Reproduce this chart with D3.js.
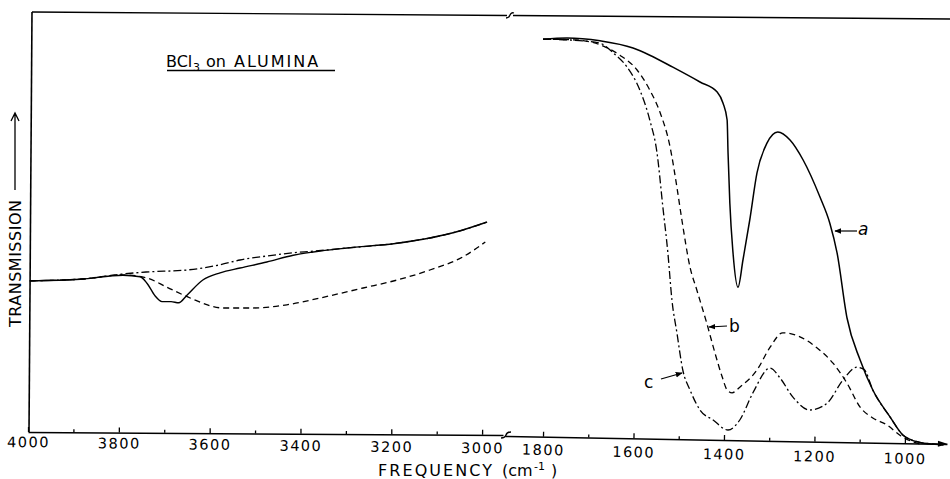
<!DOCTYPE html>
<html><head><meta charset="utf-8">
<script src="https://cdn.jsdelivr.net/npm/d3@7"></script>
<style>body{margin:0;background:#fff}svg{display:block}</style>
</head><body>
<svg id="chart" width="950" height="479"></svg>
<script>
// ---------- DATA ----------
// Left panel (OH stretching region), [frequency cm-1, transmission (arb.)]
const leftSolid = [[3996,39.8],[3885,40.2],[3791,41.2],[3753,40.8],[3738,39.2],[3720,36],[3705,34.6],[3685,34.6],[3668,34.3],[3650,36.2],[3615,40],[3577,41.8],[3533,43],[3474,44.5],[3416,46.2],[3372,47],[3297,48],[3187,49.2],[3115,50.5],[3064,51.8],[2989,54.5]];
const leftDashed = [[3996,39.8],[3885,40.2],[3791,41.3],[3738,40.5],[3694,38.2],[3643,35.5],[3570,33],[3504,33],[3430,33.8],[3357,35.5],[3262,38],[3187,40],[3115,42.5],[3042,45.8],[2993,49.5]];
const leftDashDot = [[3996,39.8],[3885,40.2],[3791,41.5],[3740,42],[3650,42.5],[3577,43.8],[3533,45],[3474,46],[3416,46.8],[3372,47.2],[3297,48],[3187,49.2],[3115,50.5],[3064,51.8],[2989,54.5]];
// Right panel, curves a (solid), b (dashed), c (dash-dot)
const curveA = [[1800,100.2],[1747,100.5],[1674,99.8],[1601,98],[1564,96.2],[1513,93.2],[1453,89.5],[1415,87],[1402,84.2],[1393,80],[1391,71.8],[1387,59.2],[1380,46.8],[1369,38.2],[1358,45],[1343,55],[1327,66.8],[1305,74.2],[1281,77],[1254,75],[1225,70],[1188,60.8],[1166,54.2],[1150,46.8],[1128,30.5],[1099,20],[1071,12.5],[1033,5.8],[1004,1.2],[967,-0.6],[938,-1],[915,-1.2]];
const curveB = [[1800,100.2],[1725,100],[1674,98.8],[1630,96.2],[1592,92.5],[1564,87.5],[1541,81.8],[1519,73.2],[1504,63.2],[1493,55],[1475,43.2],[1460,37.5],[1438,29.2],[1420,21.8],[1404,15.8],[1393,12.5],[1382,11.8],[1365,13.2],[1327,17.5],[1298,23.2],[1270,26.8],[1232,25.8],[1194,23],[1159,19.2],[1128,14.2],[1099,8.2],[1071,5.5],[1040,3.8],[1011,1.2],[982,-0.5],[967,-1]];
const curveC = [[1800,100.2],[1740,100],[1674,99.2],[1645,96.8],[1614,93.2],[1586,87.5],[1564,80],[1548,71.8],[1535,58.2],[1524,46.8],[1515,35],[1504,26.8],[1491,17.5],[1475,12.5],[1453,7.5],[1424,5],[1391,2.5],[1365,5],[1336,11.8],[1298,18],[1276,15.5],[1248,10.8],[1210,7.5],[1172,9.2],[1137,15],[1106,18.2],[1090,17.6],[1071,12.5],[1033,5.8],[1004,1.2],[967,-0.6],[938,-1],[915,-1.2]];
// Axis ticks and labels
const leftTicks = [4000,3900,3800,3700,3600,3500,3400,3300,3200,3100,3000];
const leftLabels = [4000,3800,3600,3400,3200,3000];
const rightTicks = [1800,1700,1600,1500,1400,1300,1200,1100,1000];
const rightLabels = [1800,1600,1400,1200,1000];
const titleParts = ["BCl", "3", "on", "ALUMINA"];
const yTitle = "TRANSMISSION";
const xTitle = ["FREQUENCY", "(cm", "-1", ")"];
const curveNames = ["a", "b", "c"];

// ---------- DRAWING ----------
const svg = d3.select("#chart");
const FONT = "DejaVu Sans, Liberation Sans, sans-serif";

const xL = d3.scaleLinear().domain([4000, 2954]).range([28, 503]);
const xR = d3.scaleLinear().domain([1884, 907]).range([505, 947]);
const y = d3.scaleLinear().domain([0, 100]).range([440, 40]);

// frame
svg.append("path").attr("d", "M32,12 L29,432").attr("stroke", "#000").attr("stroke-width", 1.6).attr("fill", "none");
svg.append("path").attr("d", "M32,12 L507,15.5 M513,15.5 L950,19").attr("stroke", "#000").attr("stroke-width", 1.4).attr("fill", "none");
svg.append("path").attr("d", "M506,18 Q509,18 510,15 T514,13").attr("stroke", "#000").attr("stroke-width", 1.3).attr("fill", "none");

function drawAxis(scale, ticks, labels, tx, ty, ang, pivot, padFn) {
  const g = svg.append("g").attr("transform", `translate(${tx},${ty}) rotate(${ang},${pivot},0)`);
  const ax = d3.axisBottom(scale).tickValues(ticks).tickSizeInner(-5).tickSizeOuter(0).tickPadding(5)
    .tickFormat(d => labels.includes(d) ? d : "");
  g.call(ax);
  g.select(".domain").attr("stroke", "#000").attr("stroke-width", 1.5);
  g.selectAll(".tick line").attr("stroke", "#000").attr("stroke-width", 1.3)
    .attr("y2", d => labels.includes(d) ? -5 : -3);
  g.selectAll(".tick text").attr("font-family", FONT).attr("font-size", 14.5)
    .attr("letter-spacing", "1.5px").attr("fill", "#000")
    .attr("y", d => padFn(d));
  return g;
}
drawAxis(xL, leftTicks, leftLabels, 0, 432, 0.36, 28, d => 5 + 3 * (4000 - d) / 1000);
const gR = drawAxis(xR, rightTicks, rightLabels, 0, 436, 1.04, 505, d => 8 + 2.2 * (1800 - d) / 800);
gR.append("path").attr("d", "M938,-3 L948,0 L938,3 Z").attr("fill", "#000");
// break mark on axis
svg.append("path").attr("d", "M501,438 Q505,438 506,435 T511,432").attr("stroke", "#000").attr("stroke-width", 1.4).attr("fill", "none");

// curves
const lineL = d3.line().x(d => xL(d[0])).y(d => y(d[1])).curve(d3.curveMonotoneX);
const lineR = d3.line().x(d => xR(d[0])).y(d => y(d[1])).curve(d3.curveMonotoneX);
const styles = {solid: null, dashed: "6,4", dashdot: "8,3,2,3"};
function addLine(gen, data, dash, w) {
  svg.append("path").datum(data).attr("d", gen).attr("fill", "none").attr("stroke", "#000")
    .attr("stroke-width", w).attr("stroke-dasharray", dash).attr("stroke-linejoin", "round");
}
addLine(lineL, leftDashDot, styles.dashdot, 1.3);
addLine(lineL, leftDashed, styles.dashed, 1.3);
addLine(lineL, leftSolid, styles.solid, 1.4);
addLine(lineR, curveC, styles.dashdot, 1.3);
addLine(lineR, curveB, styles.dashed, 1.3);
addLine(lineR, curveA, styles.solid, 1.5);

// title
const tg = svg.append("g").attr("font-family", FONT).attr("fill", "#000");
tg.append("text").attr("x", 166).attr("y", 67).attr("font-size", 16).text(titleParts[0]);
tg.append("text").attr("x", 193).attr("y", 71).attr("font-size", 11).text(titleParts[1]);
tg.append("text").attr("x", 206).attr("y", 67).attr("font-size", 16).text(titleParts[2]);
tg.append("text").attr("x", 234).attr("y", 67).attr("font-size", 16).attr("letter-spacing", "2px").text(titleParts[3]);
svg.append("line").attr("x1", 167).attr("x2", 335).attr("y1", 70.5).attr("y2", 70.5).attr("stroke", "#000").attr("stroke-width", 1.5);

// y title
svg.append("text").attr("transform", "translate(21,327) rotate(-90)").attr("font-family", FONT)
  .attr("font-size", 16).attr("textLength", 127).attr("lengthAdjust", "spacing").attr("fill", "#000").text(yTitle);
svg.append("path").attr("d", "M15,190 V114 M11,121 L15,113 L19,121").attr("stroke", "#000").attr("stroke-width", 1.3).attr("fill", "none");

// x title
const xg = svg.append("g").attr("font-family", FONT).attr("fill", "#000");
xg.append("text").attr("x", 378).attr("y", 476).attr("font-size", 16).attr("textLength", 114).attr("lengthAdjust", "spacing").text(xTitle[0]);
xg.append("text").attr("x", 502).attr("y", 476).attr("font-size", 16).text(xTitle[1]);
xg.append("text").attr("x", 534).attr("y", 470).attr("font-size", 11).text(xTitle[2]);
xg.append("text").attr("x", 551).attr("y", 476).attr("font-size", 16).text(xTitle[3]);

// curve labels with arrows
svg.append("defs").append("marker").attr("id", "ah").attr("viewBox", "0 0 10 10").attr("refX", 9).attr("refY", 5)
  .attr("markerWidth", 7).attr("markerHeight", 7).attr("orient", "auto-start-reverse").attr("markerUnits", "userSpaceOnUse")
  .append("path").attr("d", "M0,1 L10,5 L0,9 Z").attr("fill", "#000");
const labelInfo = [
  {name: curveNames[0], tx: 858, ty: 235, italic: true, ax1: 857, ay1: 231, ax2: 835, ay2: 231},
  {name: curveNames[1], tx: 729, ty: 332, italic: false, ax1: 727, ay1: 326, ax2: 709, ay2: 327},
  {name: curveNames[2], tx: 644, ty: 388, italic: false, ax1: 661, ay1: 379, ax2: 682, ay2: 373}
];
labelInfo.forEach(l => {
  svg.append("text").attr("x", l.tx).attr("y", l.ty).attr("font-family", FONT).attr("font-size", 17)
    .attr("font-style", l.italic ? "italic" : "normal").attr("fill", "#000").text(l.name);
  svg.append("line").attr("x1", l.ax1).attr("y1", l.ay1).attr("x2", l.ax2).attr("y2", l.ay2)
    .attr("stroke", "#000").attr("stroke-width", 1.2).attr("marker-end", "url(#ah)");
});
</script>
</body></html>
